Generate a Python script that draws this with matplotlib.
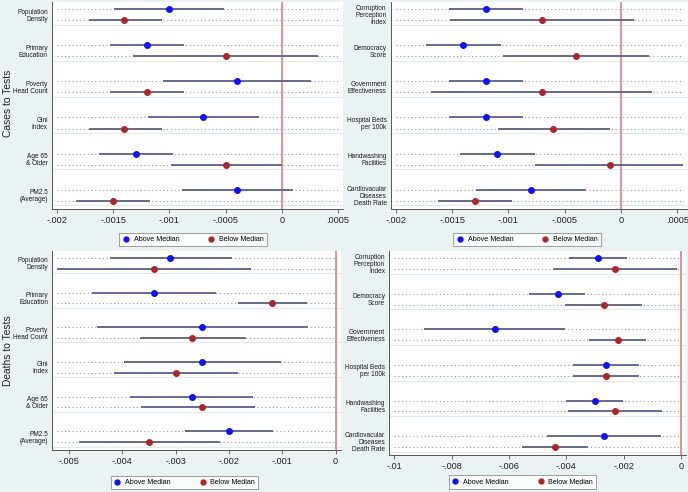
import numpy as np
import matplotlib
matplotlib.use('Agg')
import matplotlib.pyplot as plt
from matplotlib.lines import Line2D

plt.rcParams['font.family'] = ['Liberation Sans', 'DejaVu Sans']

# ---- data -----------------------------------------------------------------
labels_left = ["Population\nDensity", "Primary\nEducation", "Poverty\nHead Count",
               "Gini\nIndex", "Age 65\n& Older", "PM2.5\n(Average)"]
labels_right = ["Corruption\nPerception\nIndex", "Democracy\nScore", "Government\nEffectiveness",
                "Hospital Beds\nper 100k", "Handwashing\nFacilities", "Cardiovacular\nDiseases\nDeath Rate"]

# cases to tests, left block
cl_above = [-0.00100, -0.00120, -0.00040, -0.00070, -0.00130, -0.00040]
cl_above_lo = [-0.00149, -0.00153, -0.00106, -0.00119, -0.00163, -0.00089]
cl_above_hi = [-0.00051, -0.00087, 0.00026, -0.00020, -0.00097, 0.00010]
cl_below = [-0.00140, -0.00050, -0.00120, -0.00140, -0.00050, -0.00150]
cl_below_lo = [-0.00172, -0.00132, -0.00153, -0.00172, -0.00099, -0.00183]
cl_below_hi = [-0.00107, 0.00032, -0.00087, -0.00107, 0.00000, -0.00117]

# cases to tests, right block
cr_above = [-0.00120, -0.00140, -0.00120, -0.00120, -0.00110, -0.00080]
cr_above_lo = [-0.00153, -0.00173, -0.00153, -0.00153, -0.00143, -0.00129]
cr_above_hi = [-0.00087, -0.00107, -0.00087, -0.00087, -0.00076, -0.00031]
cr_below = [-0.00070, -0.00040, -0.00070, -0.00060, -0.00010, -0.00130]
cr_below_lo = [-0.00152, -0.00105, -0.00169, -0.00109, -0.00076, -0.00163]
cr_below_hi = [0.00012, 0.00025, 0.00028, -0.00010, 0.00055, -0.00097]

# deaths to tests, left block
dl_above = [-0.0031, -0.0034, -0.0025, -0.0025, -0.0027, -0.0020]
dl_above_lo = [-0.00424, -0.00456, -0.00447, -0.00397, -0.00385, -0.00282]
dl_above_hi = [-0.00194, -0.00224, -0.00052, -0.00102, -0.00155, -0.00117]
dl_below = [-0.0034, -0.0012, -0.0027, -0.0030, -0.0025, -0.0035]
dl_below_lo = [-0.00522, -0.00184, -0.00367, -0.00415, -0.00365, -0.00481]
dl_below_hi = [-0.00159, -0.00054, -0.00169, -0.00184, -0.00151, -0.00217]

# deaths to tests, right block
dr_above = [-0.0029, -0.0043, -0.0065, -0.0026, -0.0030, -0.0027]
dr_above_lo = [-0.00391, -0.00529, -0.00897, -0.00376, -0.00401, -0.00467]
dr_above_hi = [-0.00187, -0.00333, -0.00404, -0.00145, -0.00201, -0.00070]
dr_below = [-0.0023, -0.0027, -0.0022, -0.0026, -0.0023, -0.0044]
dr_below_lo = [-0.00446, -0.00405, -0.00319, -0.00376, -0.00395, -0.00555]
dr_below_hi = [-0.00015, -0.00136, -0.00120, -0.00145, -0.00065, -0.00324]

ticks_cases = [-0.002, -0.0015, -0.001, -0.0005, 0, 0.0005]
ticklabels_cases = ["-.002", "-.0015", "-.001", "-.0005", "0", ".0005"]
ticks_dl = [-0.005, -0.004, -0.003, -0.002, -0.001, 0]
ticklabels_dl = ["-.005", "-.004", "-.003", "-.002", "-.001", "0"]
ticks_dr = [-0.01, -0.008, -0.006, -0.004, -0.002, 0]
ticklabels_dr = ["-.01", "-.008", "-.006", "-.004", "-.002", "0"]

# ---- style ----------------------------------------------------------------
bg = '#eaf2f3'
blue = '#1010ff'
red = '#b02428'
ci_col = '#666b8c'
off = 0.153


def panel(ax, labels, above, alo, ahi, below, blo, bhi, ticks, ticklabels):
	ax.set_facecolor('white')
	n = len(labels)
	yc = np.arange(n)
	ya = yc - off
	yb = yc + off
	lo = min(ticks[0], min(alo), min(blo))
	hi = max(ticks[-1], max(ahi), max(bhi))
	for y in list(ya) + list(yb):
		ax.plot([lo, hi], [y, y], color='#979797', lw=0.8, ls=(0, (1, 2.4)), zorder=1)
	for y in yb:
		ax.axhline(y + 0.13, color='#e4e9eb', lw=0.8, zorder=0)
	ax.axvline(0, color='#e6868c', lw=1.3, zorder=2)
	ax.hlines(ya, alo, ahi, color=ci_col, lw=1.4, zorder=3)
	ax.hlines(yb, blo, bhi, color=ci_col, lw=1.4, zorder=3)
	ax.plot(above, ya, 'o', color=blue, ms=4, zorder=4)
	ax.plot(below, yb, 'o', color=red, ms=4, zorder=4)
	pad = 0.018 * (hi - lo)
	ax.set_xlim(lo - pad, hi + pad)
	ax.set_ylim(n - 1 + off + 0.23, -off - 0.2)
	ax.set_yticks(yc)
	ax.set_yticklabels(labels, fontsize=4.7, linespacing=1.0, color='#1a1a1a')
	ax.tick_params(axis='y', length=0, pad=3)
	ax.set_xticks(ticks)
	ax.set_xticklabels(ticklabels, fontsize=6.6, color='#222222')
	ax.tick_params(axis='x', length=3, width=0.6, color='#555555', pad=2)
	for s in ['top', 'right']:
		ax.spines[s].set_visible(False)
	for s in ['left', 'bottom']:
		ax.spines[s].set_color('#555555')
		ax.spines[s].set_linewidth(0.7)


def add_legend(fig, cx, cy):
	h = [Line2D([], [], ls='', marker='o', color=blue, ms=3.5),
	     Line2D([], [], ls='', marker='o', color=red, ms=3.5)]
	leg = fig.legend(h, ['Above Median', 'Below Median'], loc='center', bbox_to_anchor=(cx, cy),
	                 ncol=2, fontsize=5.1, frameon=True, fancybox=False, borderpad=0.45,
	                 columnspacing=4.0, handletextpad=0.6, handlelength=1.0)
	leg.get_frame().set_edgecolor('#777777')
	leg.get_frame().set_linewidth(0.6)
	leg.get_frame().set_facecolor('white')


fig = plt.figure(figsize=(6.88, 4.92), dpi=100, facecolor=bg)

ax1 = fig.add_axes([0.0756, 0.5752, 0.4230, 0.4207])
panel(ax1, labels_left, cl_above, cl_above_lo, cl_above_hi, cl_below, cl_below_lo, cl_below_hi,
      ticks_cases, ticklabels_cases)
ax2 = fig.add_axes([0.5679, 0.5752, 0.4321, 0.4207])
panel(ax2, labels_right, cr_above, cr_above_lo, cr_above_hi, cr_below, cr_below_lo, cr_below_hi,
      ticks_cases, ticklabels_cases)
ax3 = fig.add_axes([0.0760, 0.0854, 0.4192, 0.4045])
panel(ax3, labels_left, dl_above, dl_above_lo, dl_above_hi, dl_below, dl_below_lo, dl_below_hi,
      ticks_dl, ticklabels_dl)
ax4 = fig.add_axes([0.5658, 0.0746, 0.4313, 0.4152])
panel(ax4, labels_right, dr_above, dr_above_lo, dr_above_hi, dr_below, dr_below_lo, dr_below_hi,
      ticks_dr, ticklabels_dr)

fig.text(0.012, 0.789, 'Cases to Tests', rotation=90, ha='center', va='center', fontsize=7.4, color='#222222')
fig.text(0.012, 0.2866, 'Deaths to Tests', rotation=90, ha='center', va='center', fontsize=7.4, color='#222222')

add_legend(fig, 0.2805, 0.5132)
add_legend(fig, 0.766, 0.5132)
add_legend(fig, 0.268, 0.0193)
add_legend(fig, 0.7594, 0.0203)

fig.savefig('out.png', dpi=100, facecolor=bg)
